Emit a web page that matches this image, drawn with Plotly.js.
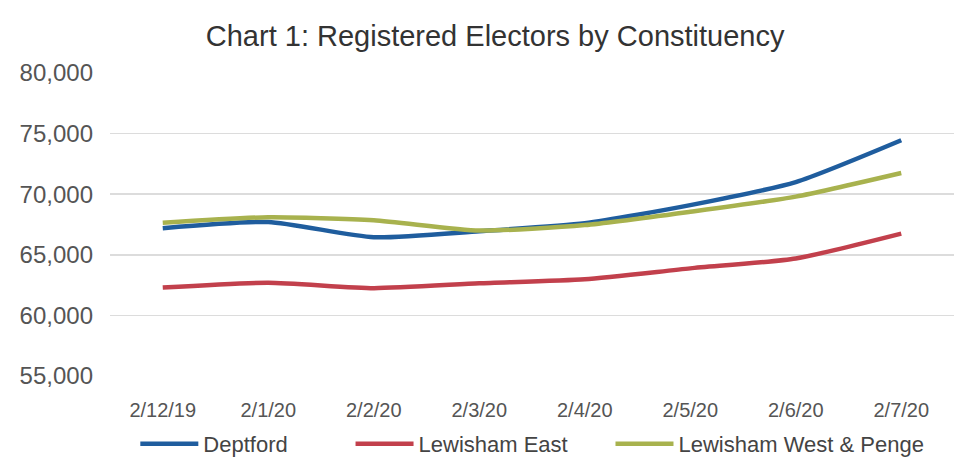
<!DOCTYPE html>
<html>
<head>
<meta charset="utf-8">
<script src="https://cdn.plot.ly/plotly-3.0.1.min.js"></script>
<style>html,body{margin:0;padding:0;background:#fff;}#chart{width:954px;height:461px;}</style>
</head>
<body>
<div id="chart"></div>
<script>
const dates = ["2/12/19","2/1/20","2/2/20","2/3/20","2/4/20","2/5/20","2/6/20","2/7/20"];
const deptford = [67200, 67700, 66450, 66950, 67600, 69100, 71000, 74450];
const lewishamEast = [62300, 62700, 62250, 62650, 62980, 63880, 64700, 66750];
const lewishamWestPenge = [67650, 68100, 67850, 67000, 67450, 68550, 69800, 71750];
const seriesNames = ["Deptford", "Lewisham East", "Lewisham West & Penge"];
const yTicks = [55000, 60000, 65000, 70000, 75000, 80000];

const colors = ["#1f5d9e", "#c2404c", "#a8b24e"];
const legendIds = ["legend", "legend2", "legend3"];
const allSeries = [deptford, lewishamEast, lewishamWestPenge];
const traces = allSeries.map((vals, i) => ({
  x: dates, y: vals, name: seriesNames[i], type: "scatter", mode: "lines",
  legend: legendIds[i],
  line: {color: colors[i], width: 4.5, shape: "spline", smoothing: 0.6}
}));

function legendAt(xp) {
  return {orientation: "h", x: xp, xanchor: "left", yref: "container", y: 0.037, yanchor: "middle",
          font: {size: 22, color: "#444444"}, itemwidth: 58, bgcolor: "rgba(0,0,0,0)"};
}

const layout = {
  width: 954, height: 461,
  margin: {l: 110, r: 0, t: 73, b: 85, autoexpand: false},
  paper_bgcolor: "#ffffff", plot_bgcolor: "#ffffff",
  font: {family: "Liberation Sans, Arial, sans-serif", color: "#555555"},
  title: {text: "Chart 1: Registered Electors by Constituency", x: 0.519, xanchor: "center", y: 0.922, yanchor: "middle",
          font: {size: 29, color: "#333333"}},
  xaxis: {type: "category", range: [-0.5, 7.5], showgrid: false, zeroline: false, showline: false,
          ticks: "", tickfont: {size: 20, color: "#555555"}, ticklabelstandoff: 20, fixedrange: true},
  yaxis: {range: [55000, 80000], tickvals: yTicks, tickformat: ",d", showgrid: true, gridcolor: "#dcdcdc", gridwidth: 1.5,
          zeroline: false, showline: false, ticks: "", tickfont: {size: 24, color: "#555555"}, ticklabelstandoff: 16},
  showlegend: true,
  legend: legendAt(0.030),
  legend2: legendAt(0.285),
  legend3: legendAt(0.593)
};
Plotly.newPlot("chart", traces, layout, {displayModeBar: false, staticPlot: true});
</script>
</body>
</html>
